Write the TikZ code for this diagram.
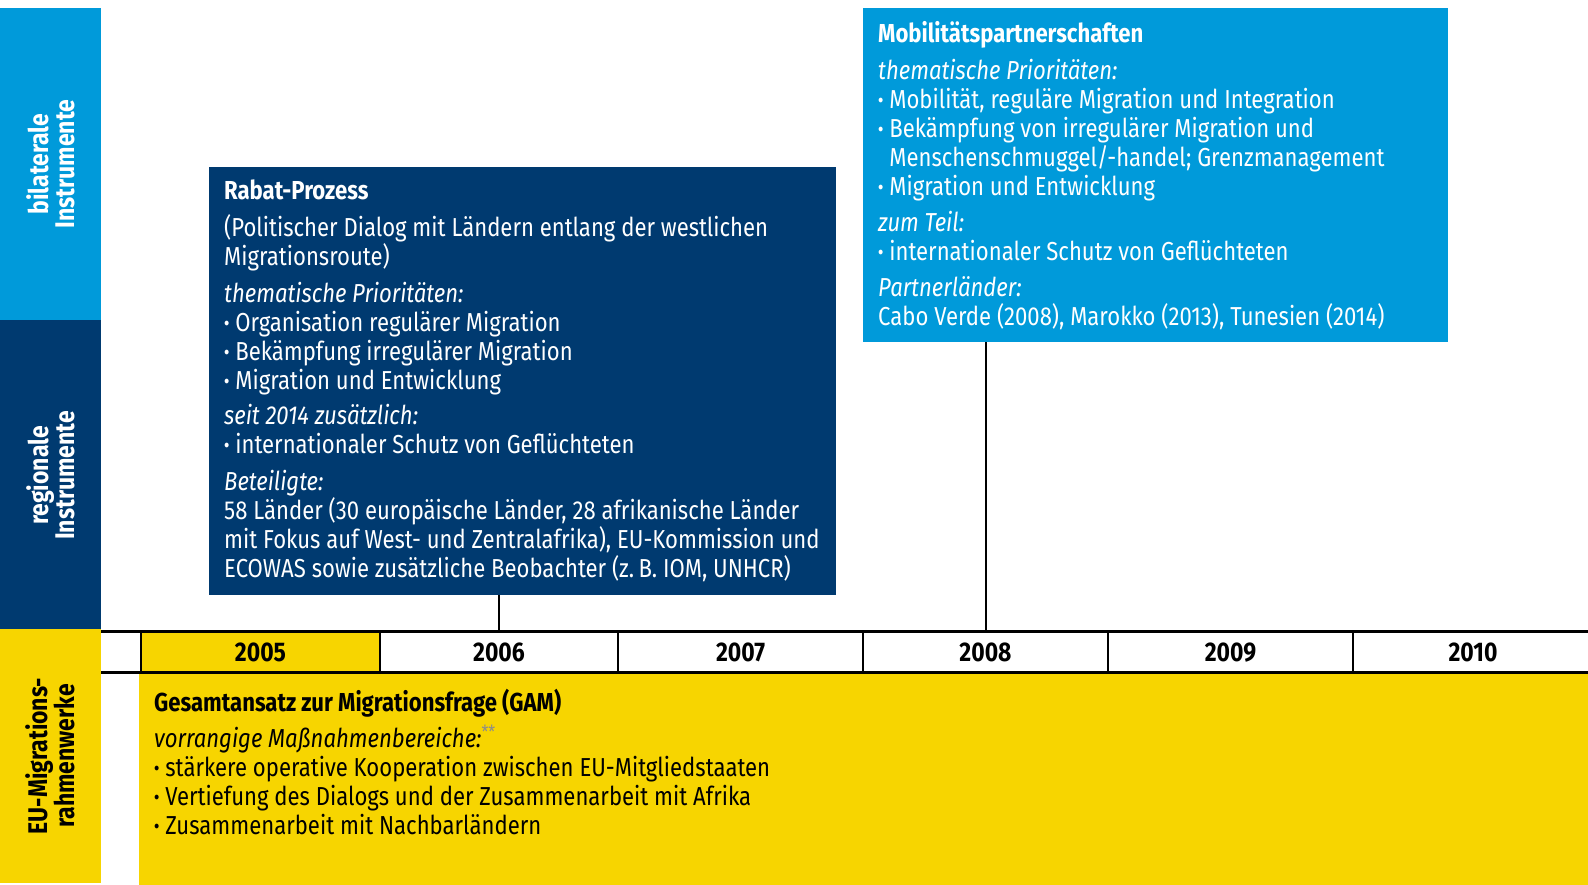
\documentclass[tikz,border=0pt]{standalone}
\usepackage{fontspec}
\setmainfont{Fira Sans}[FakeStretch=0.85]
\usetikzlibrary{positioning}
\definecolor{bilablue}{RGB}{0,154,218}
\definecolor{regioblue}{RGB}{0,58,112}
\definecolor{euyellow}{RGB}{247,213,0}
\newcommand{\bul}{\textbf{·}\ }

\begin{document}
\begin{tikzpicture}[
	x=1pt, y=-1pt,
	band/.style = {rectangle, inner sep=0pt, minimum height=101pt, rotate=90,
		font=\bfseries\fontsize{27}{26}\selectfont, align=center},
	panel/.style = {rectangle, inner sep=0pt, anchor=north west},
	txt/.style = {inner sep=0pt, align=left,
		font=\fontsize{26}{29}\selectfont},
	yearcell/.style = {rectangle, draw=black, line width=2pt, inner sep=0pt,
		minimum height=41pt, anchor=north west,
		font=\bfseries\fontsize{27}{27}\selectfont},
	rule/.style = {line width=3pt},
	stem/.style = {line width=2pt},
	]
	\useasboundingbox (0,0) rectangle (1588,885);
	
	% side bands
	\node[band, fill=bilablue, minimum width=312pt, text=white] (bila) at (50.5,164) {bilaterale\\Instrumente};
	\node[band, fill=regioblue, minimum width=311pt, text=white] (regio) at (50.5,475.5) {regionale\\Instrumente};
	\node[band, fill=euyellow, minimum width=254pt] (eu) at (50.5,756) {EU-Migrations-\\rahmenwerke};
	
	% panels
	\node[panel, fill=regioblue, minimum width=627pt, minimum height=428pt] (rabat) at (209,167) {};
	\node[panel, fill=bilablue, minimum width=585pt, minimum height=334pt] (mobil) at (863,8) {};
	\node[panel, fill=euyellow, minimum width=1449pt, minimum height=213pt] (gam) at (139,672) {};
	
	\node[txt, text=white, below right=13pt and 15pt of rabat.north west] (rabattext) {%
		\textbf{Rabat-Prozess}\\[8pt]
		(Politischer Dialog mit Ländern entlang der westlichen\\
		Migrationsroute)\\[8pt]
		\textit{thematische Prioritäten:}\\
		\bul Organisation regulärer Migration\\
		\bul Bekämpfung irregulärer Migration\\
		\bul Migration und Entwicklung\\[6pt]
		\textit{seit 2014 zusätzlich:}\\
		\bul internationaler Schutz von Geflüchteten\\[8pt]
		\textit{Beteiligte:}\\
		58 Länder (30 europäische Länder, 28 afrikanische Länder\\
		mit Fokus auf West- und Zentralafrika), EU-Kommission und\\
		ECOWAS sowie zusätzliche Beobachter (z.\,B. IOM, UNHCR)};
	
	\node[txt, text=white, below right=13pt and 15pt of mobil.north west] (mobiltext) {%
		\textbf{Mobilitätspartnerschaften}\\[8pt]
		\textit{thematische Prioritäten:}\\
		\bul Mobilität, reguläre Migration und Integration\\
		\bul Bekämpfung von irregulärer Migration und\\
		\phantom{\bul}Menschenschmuggel/-handel; Grenzmanagement\\
		\bul Migration und Entwicklung\\[7pt]
		\textit{zum Teil:}\\
		\bul internationaler Schutz von Geflüchteten\\[7pt]
		\textit{Partnerländer:}\\
		Cabo Verde (2008), Marokko (2013), Tunesien (2014)};
	
	\node[txt, below right=17pt and 15pt of gam.north west] (gamtext) {%
		\textbf{Gesamtansatz zur Migrationsfrage (GAM)}\\[7pt]
		\textit{vorrangige Maßnahmenbereiche:}\textsuperscript{\color{black!45}**}\\
		\bul stärkere operative Kooperation zwischen EU-Mitgliedstaaten\\
		\bul Vertiefung des Dialogs und der Zusammenarbeit mit Afrika\\
		\bul Zusammenarbeit mit Nachbarländern};
	
	% timeline
	\foreach \yr/\xa/\w/\c in {2005/140/239/euyellow, 2006/379/238/white, 2007/617/245/white,
		2008/862/245/white, 2009/1107/245/white, 2010/1352/240/white}
	\node[yearcell, fill=\c, minimum width=\w pt] (y\yr) at (\xa,631) {\yr};
	\draw[rule] (101,631) -- (1588,631);
	\draw[rule] (101,672) -- (1588,672);
	
	\draw[stem] (rabat.south -| y2006.north) -- (y2006.north);
	\draw[stem] (mobil.south -| y2008.north) -- (y2008.north);
\end{tikzpicture}
\end{document}
